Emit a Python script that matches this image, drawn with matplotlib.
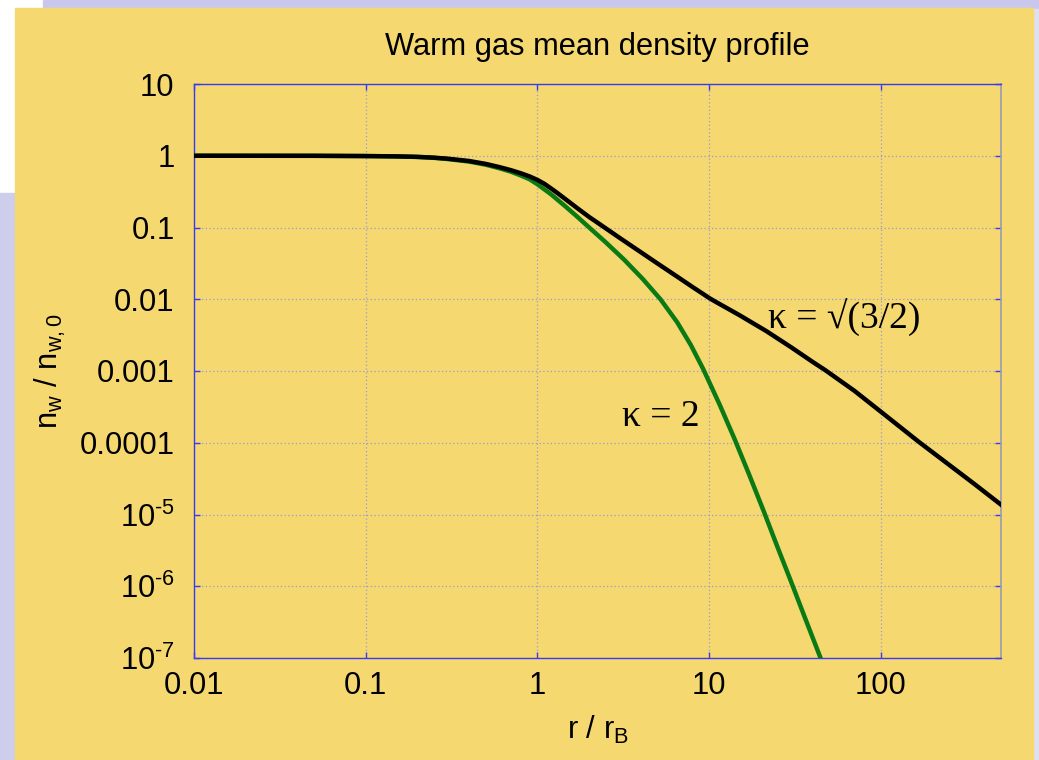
import matplotlib
matplotlib.use("Agg")
import matplotlib.pyplot as plt
from matplotlib.patches import Rectangle
from matplotlib.ticker import FixedLocator, NullLocator

plt.rcParams['font.family'] = ['Liberation Sans', 'DejaVu Sans']
plt.rcParams['mathtext.fontset'] = 'custom'
plt.rcParams['mathtext.rm'] = 'Liberation Sans'
plt.rcParams['mathtext.it'] = 'Liberation Sans'

# kappa = sqrt(3/2) curve (black)
r_k15 = [0.01, 0.05, 0.1, 0.15, 0.2, 0.25, 0.3, 0.4, 0.5, 0.6, 0.7, 0.8, 0.9,
         1.0, 1.1, 1.2, 1.3, 1.45, 1.7, 2.0, 2.4, 3.0, 4.0, 5.0, 6.5, 8.0, 9.0,
         10, 11, 12, 15, 21.5, 30, 40, 47.6, 70, 100, 166, 250, 350, 500]
n_k15 = [1.0, 0.998, 0.99, 0.98, 0.965, 0.94, 0.91, 0.845, 0.77, 0.695, 0.63,
         0.57, 0.515, 0.46, 0.405, 0.35, 0.305, 0.25, 0.187, 0.140, 0.104,
         0.072, 0.0452, 0.0315, 0.0207, 0.0148, 0.0123, 0.0104, 0.0091, 0.0081,
         0.0060, 0.0036, 0.00214, 0.00134, 0.00102, 5.3e-4, 2.7e-4, 1.03e-4,
         4.9e-5, 2.66e-5, 1.37e-5]

# kappa = 2 curve (green)
r_k2 = [0.01, 0.05, 0.1, 0.15, 0.2, 0.25, 0.3, 0.4, 0.5, 0.6, 0.7, 0.8, 0.9,
        1.0, 1.2, 1.45, 1.7, 1.93, 2.5, 3.2, 4.1, 5.2, 6.5, 7.8, 9.2, 11.5,
        14, 17, 20.8, 25, 29.8, 36, 44.5]
n_k2 = [1.0, 0.998, 0.99, 0.98, 0.962, 0.935, 0.90, 0.83, 0.75, 0.67, 0.60,
        0.53, 0.47, 0.40, 0.29, 0.198, 0.142, 0.108, 0.062, 0.0355, 0.0192,
        0.0100, 0.0048, 0.00232, 0.00108, 3.4e-4, 1.15e-4, 3.7e-5, 1.1e-5,
        3.5e-6, 1.2e-6, 3.7e-7, 1.0e-7]

xticks = [0.01, 0.1, 1, 10, 100]
xlabels = ['0.01', '0.1', '1', '10', '100']
yticks = [10, 1, 0.1, 0.01, 0.001, 0.0001, 1e-5, 1e-6, 1e-7]
ylabels = ['10', '1', '0.1', '0.01', '0.001', '0.0001',
           r'$\mathregular{10^{\text{-}5}}$', r'$\mathregular{10^{\text{-}6}}$',
           r'$\mathregular{10^{\text{-}7}}$']

fig = plt.figure(figsize=(10.39, 7.6), dpi=100, facecolor='white')

# slide background
W, H = 1039, 760
def px_rect(x0, y0, x1, y1, color):
    fig.patches.append(Rectangle((x0 / W, 1 - y1 / H), (x1 - x0) / W, (y1 - y0) / H,
                                 transform=fig.transFigure, color=color, zorder=-10))
px_rect(43, 0, W, 9, '#c9c8ec')
px_rect(0, 193, 15, H, '#cdcdec')
px_rect(1033, 9, W, H, '#dfe0ee')
px_rect(15, 8, 1033, H, '#f5d870')

ax = fig.add_axes([194 / W, 1 - 658 / H, (1001 - 194) / W, (658 - 84) / H])
ax.patch.set_alpha(0)

ax.plot(r_k2, n_k2, color='#0a7a14', lw=3.2, zorder=3, solid_joinstyle='round')
ax.plot(r_k15, n_k15, color='black', lw=3.2, zorder=4, solid_joinstyle='round')

ax.set_xscale('log')
ax.set_yscale('log')
ax.set_xlim(0.01, 500)
ax.set_ylim(1e-7, 10)

ax.xaxis.set_major_locator(FixedLocator(xticks))
ax.xaxis.set_minor_locator(NullLocator())
ax.yaxis.set_major_locator(FixedLocator(yticks))
ax.yaxis.set_minor_locator(NullLocator())
ax.set_xticklabels(xlabels)
ax.set_yticklabels(ylabels)

ax.tick_params(which='both', direction='in', top=True, right=True, length=4,
               width=1, color='#3a3af0', labelsize=22.2, labelcolor='black')
ax.tick_params(axis='x', pad=9)
ax.tick_params(axis='y', pad=14)

ax.grid(True, linestyle=(0, (1, 2)), color='#9a9ad0', lw=0.9)
for s in ['top', 'left', 'bottom']:
    ax.spines[s].set_color('#3a3af0')
    ax.spines[s].set_linewidth(1)
ax.spines['right'].set_color('#9a9ab0')
ax.spines['right'].set_linewidth(1.2)

ax.set_title('Warm gas mean density profile', fontsize=22.2, pad=21)
ax.set_xlabel(r'r / r$_\mathregular{B}$', fontsize=22.2, labelpad=10)
ax.set_ylabel(r'n$_\mathregular{w}$ / n$_\mathregular{w,0}$', fontsize=22.2, labelpad=8)

serif = ['Liberation Serif', 'DejaVu Serif']
ax.text(61, 0.0055, 'κ = √(3/2)', fontsize=27, family=serif, ha='center', va='center')
ax.text(5.26, 2.3e-4, 'κ = 2', fontsize=27, family=serif, ha='center', va='center')

fig.savefig('out.png', dpi=100, facecolor=fig.get_facecolor())
